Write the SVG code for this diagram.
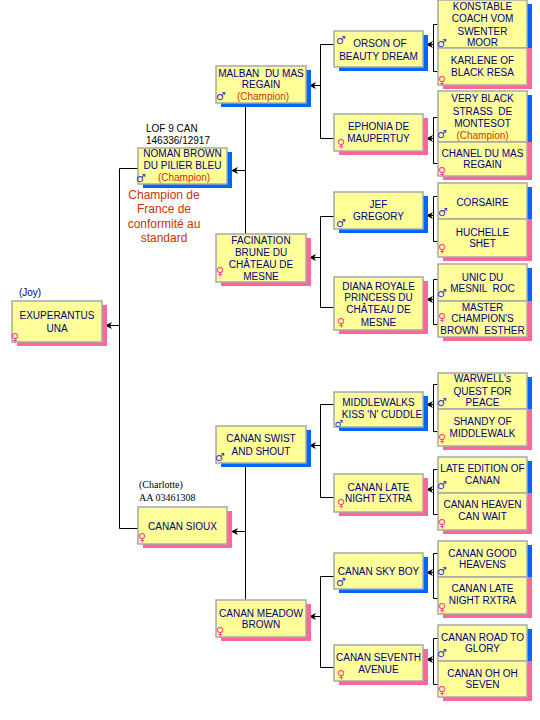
<svg xmlns="http://www.w3.org/2000/svg" width="540" height="720" viewBox="0 0 540 720">
<style>
.box{fill:#ffff99;stroke:#a8a8a8;stroke-width:1.5}
.sm{fill:#0066ff}
.sf{fill:#ff6699}
.t{font-family:"Liberation Sans",Arial,sans-serif;font-size:10px;fill:#000080;text-anchor:middle;white-space:pre}
.c{fill:#cc3300}
.k{font-family:"Liberation Sans",Arial,sans-serif;font-size:10px;fill:#000000}
.s{font-family:"Liberation Serif","Times New Roman",serif;font-size:10px;fill:#000000}
.red{font-family:"Liberation Sans",Arial,sans-serif;font-size:12px;fill:#cc3300;text-anchor:middle}
.m{font-family:"DejaVu Sans",sans-serif;font-size:11px;fill:#3333cc;text-anchor:middle;dominant-baseline:central}
.f{font-family:"DejaVu Sans",sans-serif;font-size:11px;fill:#ff3399;text-anchor:middle;dominant-baseline:central}
.ln{stroke:#000;stroke-width:1;fill:none}
.ar{stroke:#000;stroke-width:1;fill:none;marker-end:url(#ah)}
</style>
<defs>
<marker id="ah" markerUnits="userSpaceOnUse" markerWidth="8" markerHeight="8" refX="7" refY="4" orient="auto">
<path d="M0,0.5 L7,4 L0,7.5 L2,4 z" fill="#000"/>
</marker>
</defs>
<rect width="540" height="720" fill="#ffffff"/>

<g id="connectors">
<path class="ln" d="M138,168.5 H119.5 V528.5 H138"/>
<path class="ar" d="M119.5,325.5 H105"/>
<path class="ln" d="M245.5,103 V234"/>
<path class="ar" d="M245.5,170.5 H231"/>
<path class="ln" d="M245.5,463 V600"/>
<path class="ar" d="M245.5,531.5 H231"/>
<path class="ln" d="M334,44.5 H320.5 V138.5 H334"/>
<path class="ar" d="M320.5,85.5 H309"/>
<path class="ln" d="M334,216.5 H320.5 V307.5 H334"/>
<path class="ar" d="M320.5,257.5 H309"/>
<path class="ln" d="M334,404.5 H320.5 V497.5 H334"/>
<path class="ar" d="M320.5,445.5 H309"/>
<path class="ln" d="M334,576.5 H320.5 V667.5 H334"/>
<path class="ar" d="M320.5,616.5 H309"/>
<path class="ln" d="M438,24.5 H433.5 V71.5 H438"/>
<path class="ar" d="M433.5,44.5 H426"/>
<path class="ln" d="M438,117.5 H433.5 V163.5 H438"/>
<path class="ar" d="M433.5,138.5 H426"/>
<path class="ln" d="M438,196.5 H433.5 V241.5 H438"/>
<path class="ar" d="M433.5,215.5 H426"/>
<path class="ln" d="M438,279.5 H433.5 V324.5 H438"/>
<path class="ar" d="M433.5,299.5 H426"/>
<path class="ln" d="M438,384.5 H433.5 V431.5 H438"/>
<path class="ar" d="M433.5,404.5 H426"/>
<path class="ln" d="M438,469.5 H433.5 V514.5 H438"/>
<path class="ar" d="M433.5,489.5 H426"/>
<path class="ln" d="M438,553.5 H433.5 V598.5 H438"/>
<path class="ar" d="M433.5,572.5 H426"/>
<path class="ln" d="M438,638.5 H433.5 V684.5 H438"/>
<path class="ar" d="M433.5,659.5 H426"/>
</g>

<!-- Generation 1 -->
<g id="exuperantus">
<text class="t" x="30" y="296">(Joy)</text>
<rect class="sf" x="17" y="305" width="90" height="41"/>
<rect class="box" x="12" y="301" width="90" height="41"/>
<text class="t" x="57" y="319">EXUPERANTUS</text>
<text class="t" x="57" y="332">UNA</text>
<text class="f" x="15" y="337">♀</text>
</g>

<!-- Generation 2 -->
<g id="noman">
<text class="k" x="146" y="132">LOF 9 CAN</text>
<text class="k" x="146" y="144">146336/12917</text>
<rect class="sm" x="143" y="152" width="89" height="36"/>
<rect class="box" x="138" y="148" width="89" height="36"/>
<text class="t" x="182.5" y="157">NOMAN BROWN</text>
<text class="t" x="182.5" y="169">DU PILIER BLEU</text>
<text class="t c" x="184" y="181">(Champion)</text>
<text class="m" x="141" y="178">♂</text>
<text class="red" x="164" y="199">Champion de</text>
<text class="red" x="164" y="213">France de</text>
<text class="red" x="164" y="228">conformité au</text>
<text class="red" x="164" y="242">standard</text>
</g>
<g id="sioux">
<text class="s" x="139" y="488">(Charlotte)</text>
<text class="s" x="139" y="501">AA 03461308</text>
<rect class="sf" x="143" y="511" width="89" height="37"/>
<rect class="box" x="138" y="507" width="89" height="37"/>
<text class="t" x="182.5" y="530">CANAN SIOUX</text>
<text class="f" x="142" y="537">♀</text>
</g>

<!-- Generation 3 -->
<g id="malban">
<rect class="sm" x="221" y="70" width="90" height="37"/>
<rect class="box" x="216" y="66" width="90" height="37"/>
<text class="t" x="261" y="76.5">MALBAN  DU MAS</text>
<text class="t" x="261" y="88">REGAIN</text>
<text class="t c" x="263" y="100">(Champion)</text>
<text class="m" x="221" y="96">♂</text>
</g>
<g id="facination">
<rect class="sf" x="221" y="238" width="90" height="48"/>
<rect class="box" x="216" y="234" width="90" height="48"/>
<text class="t" x="261" y="244">FACINATION</text>
<text class="t" x="261" y="256">BRUNE DU</text>
<text class="t" x="261" y="268">CHÂTEAU DE</text>
<text class="t" x="261" y="280">MESNE</text>
<text class="f" x="220" y="271">♀</text>
</g>
<g id="swist">
<rect class="sm" x="221" y="430" width="90" height="37"/>
<rect class="box" x="216" y="426" width="90" height="37"/>
<text class="t" x="261" y="442">CANAN SWIST</text>
<text class="t" x="261" y="455">AND SHOUT</text>
<text class="m" x="220" y="457">♂</text>
</g>
<g id="meadow">
<rect class="sf" x="221" y="604" width="90" height="37"/>
<rect class="box" x="216" y="600" width="90" height="37"/>
<text class="t" x="261" y="617">CANAN MEADOW</text>
<text class="t" x="261" y="628">BROWN</text>
<text class="f" x="220" y="631">♀</text>
</g>

<!-- Generation 4 -->
<g id="orson">
<rect class="sm" x="339" y="35" width="89" height="36"/>
<rect class="box" x="334" y="31" width="89" height="36"/>
<text class="t" x="380" y="47">ORSON OF</text>
<text class="t" x="378.5" y="60">BEAUTY DREAM</text>
<text class="m" x="341" y="40">♂</text>
</g>
<g id="ephonia">
<rect class="sf" x="339" y="118" width="89" height="37"/>
<rect class="box" x="334" y="114" width="89" height="37"/>
<text class="t" x="378.5" y="130">EPHONIA DE</text>
<text class="t" x="378.5" y="142">MAUPERTUY</text>
<text class="f" x="341" y="143">♀</text>
</g>
<g id="jef">
<rect class="sm" x="339" y="196" width="89" height="37"/>
<rect class="box" x="334" y="192" width="89" height="37"/>
<text class="t" x="378.5" y="208">JEF</text>
<text class="t" x="378.5" y="220">GREGORY</text>
<text class="m" x="341" y="223">♂</text>
</g>
<g id="diana">
<rect class="sf" x="339" y="281" width="89" height="53"/>
<rect class="box" x="334" y="277" width="89" height="53"/>
<text class="t" x="378.5" y="290">DIANA ROYALE</text>
<text class="t" x="378.5" y="301">PRINCESS DU</text>
<text class="t" x="378.5" y="313">CHÂTEAU DE</text>
<text class="t" x="378.5" y="326">MESNE</text>
<text class="f" x="341" y="322">♀</text>
</g>
<g id="middlewalks">
<rect class="sm" x="339" y="396" width="89" height="35"/>
<rect class="box" x="334" y="392" width="89" height="35"/>
<text class="t" x="378.5" y="406">MIDDLEWALKS</text>
<text class="t" x="382" y="418">KISS 'N' CUDDLE</text>
<text class="m" x="339" y="423" style="font-size:10px">♂</text>
</g>
<g id="latenight">
<rect class="sf" x="339" y="478" width="89" height="38"/>
<rect class="box" x="334" y="474" width="89" height="38"/>
<text class="t" x="378.5" y="491">CANAN LATE</text>
<text class="t" x="378.5" y="502">NIGHT EXTRA</text>
<text class="f" x="341" y="503">♀</text>
</g>
<g id="skyboy">
<rect class="sm" x="339" y="557" width="89" height="36"/>
<rect class="box" x="334" y="553" width="89" height="36"/>
<text class="t" x="378.5" y="575">CANAN SKY BOY</text>
<text class="m" x="341" y="582">♂</text>
</g>
<g id="seventh">
<rect class="sf" x="339" y="649" width="89" height="36"/>
<rect class="box" x="334" y="645" width="89" height="36"/>
<text class="t" x="378.5" y="661">CANAN SEVENTH</text>
<text class="t" x="378.5" y="673">AVENUE</text>
<text class="f" x="341" y="674">♀</text>
</g>

<!-- Generation 5 -->
<g id="konstable">
<rect class="sm" x="443" y="4" width="89" height="44"/>
<rect class="box" x="438" y="0" width="89" height="48"/>
<text class="t" x="482.5" y="10">KONSTABLE</text>
<text class="t" x="482.5" y="22">COACH VOM</text>
<text class="t" x="482.5" y="35">SWENTER</text>
<text class="t" x="482.5" y="46">MOOR</text>
<text class="m" x="442" y="43">♂</text>
</g>
<g id="karlene">
<rect class="sf" x="443" y="48" width="89" height="41"/>
<rect class="box" x="438" y="48" width="89" height="37"/>
<text class="t" x="482.5" y="64">KARLENE OF</text>
<text class="t" x="482.5" y="76">BLACK RESA</text>
<text class="f" x="442" y="80">♀</text>
</g>
<g id="veryblack">
<rect class="sm" x="443" y="95" width="89" height="47"/>
<rect class="box" x="438" y="91" width="89" height="51"/>
<text class="t" x="482.5" y="102">VERY BLACK</text>
<text class="t" x="482.5" y="115">STRASS  DE</text>
<text class="t" x="482.5" y="127">MONTESOT</text>
<text class="t c" x="482.5" y="139">(Champion)</text>
<text class="m" x="442" y="134">♂</text>
</g>
<g id="chanel">
<rect class="sf" x="443" y="142" width="89" height="38"/>
<rect class="box" x="438" y="142" width="89" height="34"/>
<text class="t" x="482.5" y="157">CHANEL DU MAS</text>
<text class="t" x="482.5" y="168">REGAIN</text>
<text class="f" x="442" y="171">♀</text>
</g>
<g id="corsaire">
<rect class="sm" x="443" y="187" width="89" height="32"/>
<rect class="box" x="438" y="183" width="89" height="36"/>
<text class="t" x="482.5" y="206">CORSAIRE</text>
<text class="m" x="443" y="212">♂</text>
</g>
<g id="huchelle">
<rect class="sf" x="443" y="219" width="89" height="42"/>
<rect class="box" x="438" y="219" width="89" height="38"/>
<text class="t" x="482.5" y="236">HUCHELLE</text>
<text class="t" x="482.5" y="247">SHET</text>
<text class="f" x="442" y="248">♀</text>
</g>
<g id="unic">
<rect class="sm" x="443" y="268" width="89" height="33"/>
<rect class="box" x="438" y="264" width="89" height="37"/>
<text class="t" x="482.5" y="281">UNIC DU</text>
<text class="t" x="482.5" y="292">MESNIL  ROC</text>
<text class="m" x="442" y="293">♂</text>
</g>
<g id="master">
<rect class="sf" x="443" y="301" width="89" height="40"/>
<rect class="box" x="438" y="301" width="89" height="36"/>
<text class="t" x="482.5" y="311">MASTER</text>
<text class="t" x="482.5" y="322">CHAMPION'S</text>
<text class="t" x="482.5" y="334">BROWN  ESTHER</text>
<text class="f" x="442" y="317">♀</text>
</g>
<g id="warwell">
<rect class="sm" x="443" y="377" width="89" height="32"/>
<rect class="box" x="438" y="373" width="89" height="36"/>
<text class="t" x="482.5" y="382">WARWELL's</text>
<text class="t" x="482.5" y="395">QUEST FOR</text>
<text class="t" x="482.5" y="406">PEACE</text>
<text class="m" x="442" y="402">♂</text>
</g>
<g id="shandy">
<rect class="sf" x="443" y="409" width="89" height="41"/>
<rect class="box" x="438" y="409" width="89" height="37"/>
<text class="t" x="482.5" y="425">SHANDY OF</text>
<text class="t" x="482.5" y="437">MIDDLEWALK</text>
<text class="f" x="442" y="438">♀</text>
</g>
<g id="lateedition">
<rect class="sm" x="443" y="461" width="89" height="32"/>
<rect class="box" x="438" y="457" width="89" height="36"/>
<text class="t" x="482.5" y="472">LATE EDITION OF</text>
<text class="t" x="482.5" y="484">CANAN</text>
<text class="m" x="442" y="485">♂</text>
</g>
<g id="heaven">
<rect class="sf" x="443" y="493" width="89" height="41"/>
<rect class="box" x="438" y="493" width="89" height="37"/>
<text class="t" x="482.5" y="508">CANAN HEAVEN</text>
<text class="t" x="482.5" y="520">CAN WAIT</text>
<text class="f" x="442" y="523">♀</text>
</g>
<g id="goodheavens">
<rect class="sm" x="443" y="545" width="89" height="32"/>
<rect class="box" x="438" y="541" width="89" height="36"/>
<text class="t" x="482.5" y="557">CANAN GOOD</text>
<text class="t" x="482.5" y="568">HEAVENS</text>
<text class="m" x="442" y="571">♂</text>
</g>
<g id="rxtra">
<rect class="sf" x="443" y="577" width="89" height="41"/>
<rect class="box" x="438" y="577" width="89" height="37"/>
<text class="t" x="482.5" y="592">CANAN LATE</text>
<text class="t" x="482.5" y="604">NIGHT RXTRA</text>
<text class="f" x="442" y="607">♀</text>
</g>
<g id="road">
<rect class="sm" x="443" y="629" width="89" height="32"/>
<rect class="box" x="438" y="625" width="89" height="36"/>
<text class="t" x="482.5" y="641">CANAN ROAD TO</text>
<text class="t" x="482.5" y="652">GLORY</text>
<text class="m" x="442" y="653">♂</text>
</g>
<g id="ohoh">
<rect class="sf" x="443" y="661" width="89" height="40"/>
<rect class="box" x="438" y="661" width="89" height="36"/>
<text class="t" x="482.5" y="677">CANAN OH OH</text>
<text class="t" x="482.5" y="688">SEVEN</text>
<text class="f" x="442" y="690">♀</text>
</g>
</svg>
